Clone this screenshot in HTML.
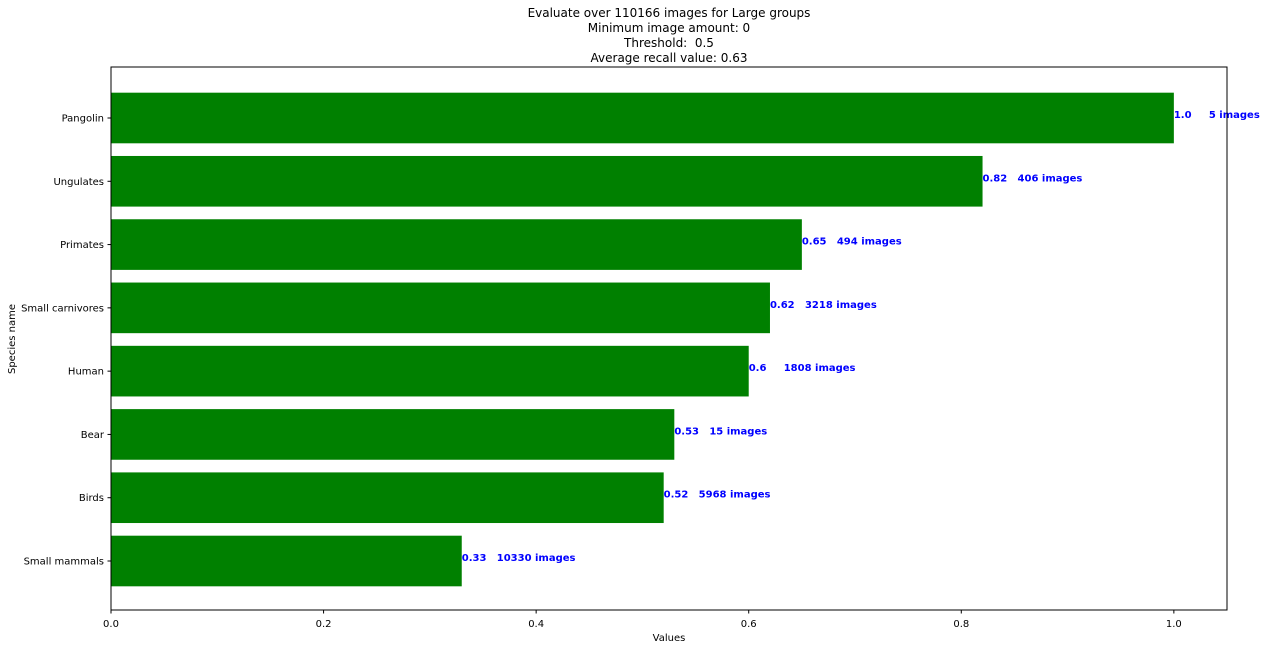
<!DOCTYPE html>
<html><head><meta charset="utf-8"><style>
body{margin:0;background:#fff;font-family:"Liberation Sans","DejaVu Sans",sans-serif;}
svg text{font-family:"DejaVu Sans","Liberation Sans",sans-serif;white-space:pre;}
</style></head><body>
<svg id="chart" width="1267" height="649" xmlns="http://www.w3.org/2000/svg">
<g font-size="12" text-anchor="middle" fill="#000">
<text x="669" y="17">Evaluate over 110166 images for Large groups</text>
<text x="669" y="32">Minimum image amount: 0</text>
<text x="669" y="47" xml:space="preserve">Threshold:  0.5</text>
<text x="669" y="62">Average recall value: 0.63</text>
</g>
<g id="bars"></g>
<g id="xticks"></g>
<g id="yticks"></g>
<rect x="111" y="67" width="1116" height="543" fill="none" stroke="#000" stroke-width="1"/>
<text x="669" y="641" font-size="10" text-anchor="middle">Values</text>
<text x="15" y="339" font-size="10" text-anchor="middle" transform="rotate(-90 15 339)">Species name</text>
</svg>
<script>
const categories = ["Pangolin","Ungulates","Primates","Small carnivores","Human","Bear","Birds","Small mammals"];
const recallValues = [1.0,0.82,0.65,0.62,0.6,0.53,0.52,0.33];
const imageCounts = [5,406,494,3218,1808,15,5968,10330];
const valueLabels = ["1.0","0.82","0.65","0.62","0.6","0.53","0.52","0.33"];
const xTickValues = [0,0.2,0.4,0.6,0.8,1.0];
const xTickLabels = ["0.0","0.2","0.4","0.6","0.8","1.0"];

const NS="http://www.w3.org/2000/svg";
const L=111,R=1227,T=67,B=610,XMAX=1.05;
const xs=v=>L+(v/XMAX)*(R-L);
const n=categories.length;
const span=(n-1)+0.8+2*0.05*((n-1)+0.8);
const y0=-0.4-0.05*((n-1)+0.8);
const ys=i=>T+1+(i-y0)/span*(B-T);
function mk(tag,attrs,parent,txt){const e=document.createElementNS(NS,tag);for(const k in attrs)e.setAttribute(k,attrs[k]);if(txt!==undefined)e.textContent=txt;parent.appendChild(e);return e;}
const gb=document.getElementById('bars'),gx=document.getElementById('xticks'),gy=document.getElementById('yticks');
categories.forEach((c,i)=>{
  const yc=ys(i),h=ys(0.4)-ys(-0.4);
  const r=mk('rect',{x:L,y:yc-h/2,width:xs(recallValues[i])-L,height:h,fill:'#008000'},gb);
  
  
  const t1=mk('text',{x:xs(recallValues[i]),y:yc,'font-size':10,'font-weight':'bold',fill:'#0000ff'},gb,valueLabels[i]);
  
  
  const t2=mk('text',{x:xs(recallValues[i])+35,y:yc,'font-size':10,'font-weight':'bold',fill:'#0000ff'},gb,imageCounts[i]+' images');
  
  
  const tk=mk('line',{x1:L-3.5,x2:L,y1:yc,y2:yc,stroke:'#000'},gy);
  
  
  const tl=mk('text',{x:L-7,y:yc+3.5,'font-size':10,'text-anchor':'end'},gy,c);
  
  
});
xTickValues.forEach((v,i)=>{
  const x=xs(v);
  const tk=mk('line',{x1:x,x2:x,y1:B,y2:B+3.5,stroke:'#000'},gx);
  
  
  const tl=mk('text',{x:x,y:B+17,'font-size':10,'text-anchor':'middle'},gx,xTickLabels[i]);
  
  
});
</script>
</body></html>
